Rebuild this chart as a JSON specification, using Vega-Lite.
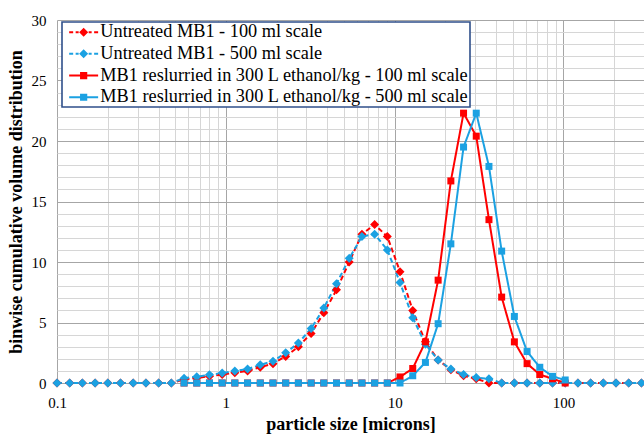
{
  "$schema": "https://vega.github.io/schema/vega-lite/v6.json",
  "width": 587,
  "height": 363,
  "autosize": "none",
  "padding": {"left": 57, "top": 20, "right": 0, "bottom": 53},
  "background": "white",
  "config": {"view": {"stroke": null}, "font": "Liberation Serif"},
  "resolve": {"legend": {"color": "independent", "shape": "independent"}},
  "data": {"values": [
    {"x": 0.1, "u100": 0, "u500": 0},
    {"x": 0.1189, "u100": 0, "u500": 0},
    {"x": 0.1414, "u100": 0, "u500": 0},
    {"x": 0.1682, "u100": 0, "u500": 0},
    {"x": 0.2, "u100": 0, "u500": 0},
    {"x": 0.2378, "u100": 0, "u500": 0},
    {"x": 0.2828, "u100": 0, "u500": 0},
    {"x": 0.3364, "u100": 0, "u500": 0},
    {"x": 0.4, "u100": 0, "u500": 0},
    {"x": 0.4757, "u100": 0, "u500": 0},
    {"x": 0.5657, "u100": 0.3, "u500": 0.4, "r100": 0, "r500": 0},
    {"x": 0.6727, "u100": 0.42, "u500": 0.52, "r100": 0, "r500": 0},
    {"x": 0.8, "u100": 0.55, "u500": 0.68, "r100": 0, "r500": 0},
    {"x": 0.9514, "u100": 0.7, "u500": 0.82, "r100": 0, "r500": 0},
    {"x": 1.131, "u100": 0.85, "u500": 1.0, "r100": 0, "r500": 0},
    {"x": 1.345, "u100": 1.0, "u500": 1.15, "r100": 0, "r500": 0},
    {"x": 1.6, "u100": 1.3, "u500": 1.5, "r100": 0, "r500": 0},
    {"x": 1.903, "u100": 1.6, "u500": 1.8, "r100": 0, "r500": 0},
    {"x": 2.263, "u100": 2.2, "u500": 2.5, "r100": 0, "r500": 0},
    {"x": 2.691, "u100": 3.0, "u500": 3.3, "r100": 0, "r500": 0},
    {"x": 3.2, "u100": 4.1, "u500": 4.5, "r100": 0, "r500": 0},
    {"x": 3.805, "u100": 5.8, "u500": 6.2, "r100": 0, "r500": 0},
    {"x": 4.525, "u100": 7.7, "u500": 8.2, "r100": 0, "r500": 0},
    {"x": 5.382, "u100": 10.0, "u500": 10.3, "r100": 0, "r500": 0},
    {"x": 6.4, "u100": 12.3, "u500": 12.1, "r100": 0, "r500": 0},
    {"x": 7.611, "u100": 13.1, "u500": 12.3, "r100": 0, "r500": 0},
    {"x": 9.051, "u100": 12.1, "u500": 11.0, "r100": 0, "r500": 0},
    {"x": 10.76, "u100": 9.2, "u500": 8.3, "r100": 0.5, "r500": 0},
    {"x": 12.8, "u100": 6.0, "u500": 5.4, "r100": 1.2, "r500": 0.6},
    {"x": 15.22, "u100": 3.4, "u500": 3.2, "r100": 3.4, "r500": 1.7},
    {"x": 18.1, "u100": 1.9, "u500": 1.9, "r100": 8.5, "r500": 4.9},
    {"x": 21.53, "u100": 1.1, "u500": 1.15, "r100": 16.7, "r500": 11.5},
    {"x": 25.6, "u100": 0.6, "u500": 0.7, "r100": 22.3, "r500": 19.5},
    {"x": 30.44, "u100": 0.35, "u500": 0.45, "r100": 20.4, "r500": 22.3},
    {"x": 36.2, "u100": 0, "u500": 0.35, "r100": 13.5, "r500": 17.9},
    {"x": 43.05, "u100": 0, "u500": 0, "r100": 7.1, "r500": 10.9},
    {"x": 51.2, "u100": 0, "u500": 0, "r100": 3.4, "r500": 5.5},
    {"x": 60.89, "u100": 0, "u500": 0, "r100": 1.6, "r500": 2.6},
    {"x": 72.41, "u100": 0, "u500": 0, "r100": 0.7, "r500": 1.3},
    {"x": 86.11, "u100": 0, "u500": 0, "r100": 0.35, "r500": 0.55},
    {"x": 102.4, "u100": 0, "u500": 0, "r100": 0, "r500": 0.25},
    {"x": 121.8, "u100": 0, "u500": 0},
    {"x": 144.8, "u100": 0, "u500": 0},
    {"x": 172.2, "u100": 0, "u500": 0},
    {"x": 204.8, "u100": 0, "u500": 0},
    {"x": 243.5, "u100": 0, "u500": 0},
    {"x": 289.6, "u100": 0, "u500": 0}
  ]},
  "transform": [
    {"fold": ["u100", "u500", "r100", "r500"], "as": ["series", "y"]},
    {"filter": "isValid(datum.y)"}
  ],
  "encoding": {
    "x": {
      "field": "x", "type": "quantitative",
      "scale": {"type": "log", "domain": [0.1, 300], "nice": false},
      "title": "particle size [microns]",
      "axis": {
        "values": [0.1, 0.2, 0.3, 0.4, 0.5, 0.6, 0.7, 0.8, 0.9, 1, 2, 3, 4, 5, 6, 7, 8, 9, 10, 20, 30, 40, 50, 60, 70, 80, 90, 100, 200, 300],
        "format": "~g",
        "labelExpr": "(datum.value==0.1||datum.value==1||datum.value==10||datum.value==100) ? datum.label : ''",
        "ticks": false, "tickSize": 0, "domain": false,
        "labelPadding": 12, "labelFontSize": 15, "labelFont": "Liberation Serif", "labelColor": "black",
        "labelOverlap": false, "labelFlush": false, "labelBound": false,
        "gridColor": {"condition": {"test": "datum.value==0.1||datum.value==1||datum.value==10||datum.value==100", "value": "#a6a6a6"}, "value": "#d6d6d6"},
        "titleFont": "Liberation Serif", "titleFontSize": 18, "titleFontWeight": "bold", "titleColor": "black", "titlePadding": 5
      }
    },
    "y": {
      "field": "y", "type": "quantitative",
      "scale": {"domain": [0, 30], "nice": false},
      "title": "binwise cumulative volume distribution",
      "axis": {
        "values": [0,1,2,3,4,5,6,7,8,9,10,11,12,13,14,15,16,17,18,19,20,21,22,23,24,25,26,27,28,29,30],
        "labelExpr": "datum.value % 5 == 0 ? datum.label : ''",
        "ticks": false, "tickSize": 0, "domain": false,
        "labelPadding": 11, "labelFontSize": 15, "labelFont": "Liberation Serif", "labelColor": "black",
        "labelOverlap": false, "labelBound": false, "labelFlush": false,
        "gridColor": {"condition": {"test": "datum.value % 5 == 0", "value": "#a6a6a6"}, "value": "#d6d6d6"},
        "titleFont": "Liberation Serif", "titleFontSize": 18, "titleFontWeight": "bold", "titleColor": "black", "titlePadding": 6
      }
    },
    "color": {
      "field": "series", "type": "nominal",
      "scale": {"domain": ["u100", "u500", "r100", "r500"], "range": ["#FF0000", "#1BA1E2", "#FF0000", "#1BA1E2"]},
      "legend": null
    }
  },
  "layer": [
    {
      "mark": {"type": "line", "strokeWidth": 2, "clip": false},
      "encoding": {
        "strokeDash": {
          "field": "series", "type": "nominal",
          "scale": {"domain": ["u100", "u500", "r100", "r500"], "range": [[5, 3], [5, 3], [1, 0], [1, 0]]},
          "legend": null
        }
      }
    },
    {
      "transform": [{"filter": "datum.series=='u100'||datum.series=='u500'"}],
      "mark": {"type": "point", "shape": "diamond", "filled": true, "size": 81, "opacity": 1, "strokeWidth": 0}
    },
    {
      "transform": [{"filter": "datum.series=='r100'||datum.series=='r500'"}],
      "mark": {"type": "point", "shape": "square", "filled": true, "size": 49, "opacity": 1, "strokeWidth": 0}
    },
    {
      "mark": {"type": "point", "filled": true, "opacity": 0, "strokeWidth": 0},
      "encoding": {
        "color": {
          "field": "series", "type": "nominal",
          "scale": {"domain": ["u100", "u500", "r100", "r500"], "range": ["#FF0000", "#1BA1E2", "#FF0000", "#1BA1E2"]},
          "legend": {
            "title": null, "orient": "none", "legendX": 5, "legendY": 2,
            "labelExpr": "datum.value=='u100' ? 'Untreated MB1 - 100 ml scale' : datum.value=='u500' ? 'Untreated MB1 - 500 ml scale' : datum.value=='r100' ? 'MB1 reslurried in 300 L ethanol/kg - 100 ml scale' : 'MB1 reslurried in 300 L ethanol/kg - 500 ml scale'",
            "labelFont": "Liberation Serif", "labelFontSize": 18.3, "labelColor": "black", "labelLimit": 600,
            "symbolSize": 256, "symbolOffset": 11.5, "labelOffset": 7.5, "symbolStrokeWidth": 0, "symbolOpacity": 1,
            "padding": 1, "rowPadding": 2.7,
            "strokeColor": "#2F4F8A", "fillColor": "white",
            "encode": {"legend": {"update": {"strokeWidth": {"value": 1.6}}}}
          }
        },
        "shape": {
          "field": "series", "type": "nominal",
          "scale": {
            "domain": ["u100", "u500", "r100", "r500"],
            "range": [
              "M-1.81,-0.125H-1.31V0.125H-1.81Z M-1,-0.125H-0.625V0.125H-1Z M0.625,-0.125H1V0.125H0.625Z M1.31,-0.125H1.81V0.125H1.31Z M0,-0.5625L0.5625,0L0,0.5625L-0.5625,0Z",
              "M-1.81,-0.125H-1.31V0.125H-1.81Z M-1,-0.125H-0.625V0.125H-1Z M0.625,-0.125H1V0.125H0.625Z M1.31,-0.125H1.81V0.125H1.31Z M0,-0.5625L0.5625,0L0,0.5625L-0.5625,0Z",
              "M-1.81,-0.125H1.81V0.125H-1.81Z M-0.45,-0.45H0.45V0.45H-0.45Z",
              "M-1.81,-0.125H1.81V0.125H-1.81Z M-0.45,-0.45H0.45V0.45H-0.45Z"
            ]
          },
          "legend": {
            "title": null, "orient": "none", "legendX": 5, "legendY": 2,
            "labelExpr": "datum.value=='u100' ? 'Untreated MB1 - 100 ml scale' : datum.value=='u500' ? 'Untreated MB1 - 500 ml scale' : datum.value=='r100' ? 'MB1 reslurried in 300 L ethanol/kg - 100 ml scale' : 'MB1 reslurried in 300 L ethanol/kg - 500 ml scale'",
            "labelFont": "Liberation Serif", "labelFontSize": 18.3, "labelColor": "black", "labelLimit": 600,
            "symbolSize": 256, "symbolOffset": 11.5, "labelOffset": 7.5, "symbolStrokeWidth": 0, "symbolOpacity": 1,
            "padding": 1, "rowPadding": 2.7,
            "strokeColor": "#2F4F8A", "fillColor": "white",
            "encode": {"legend": {"update": {"strokeWidth": {"value": 1.6}}}}
          }
        }
      }
    }
  ]
}
